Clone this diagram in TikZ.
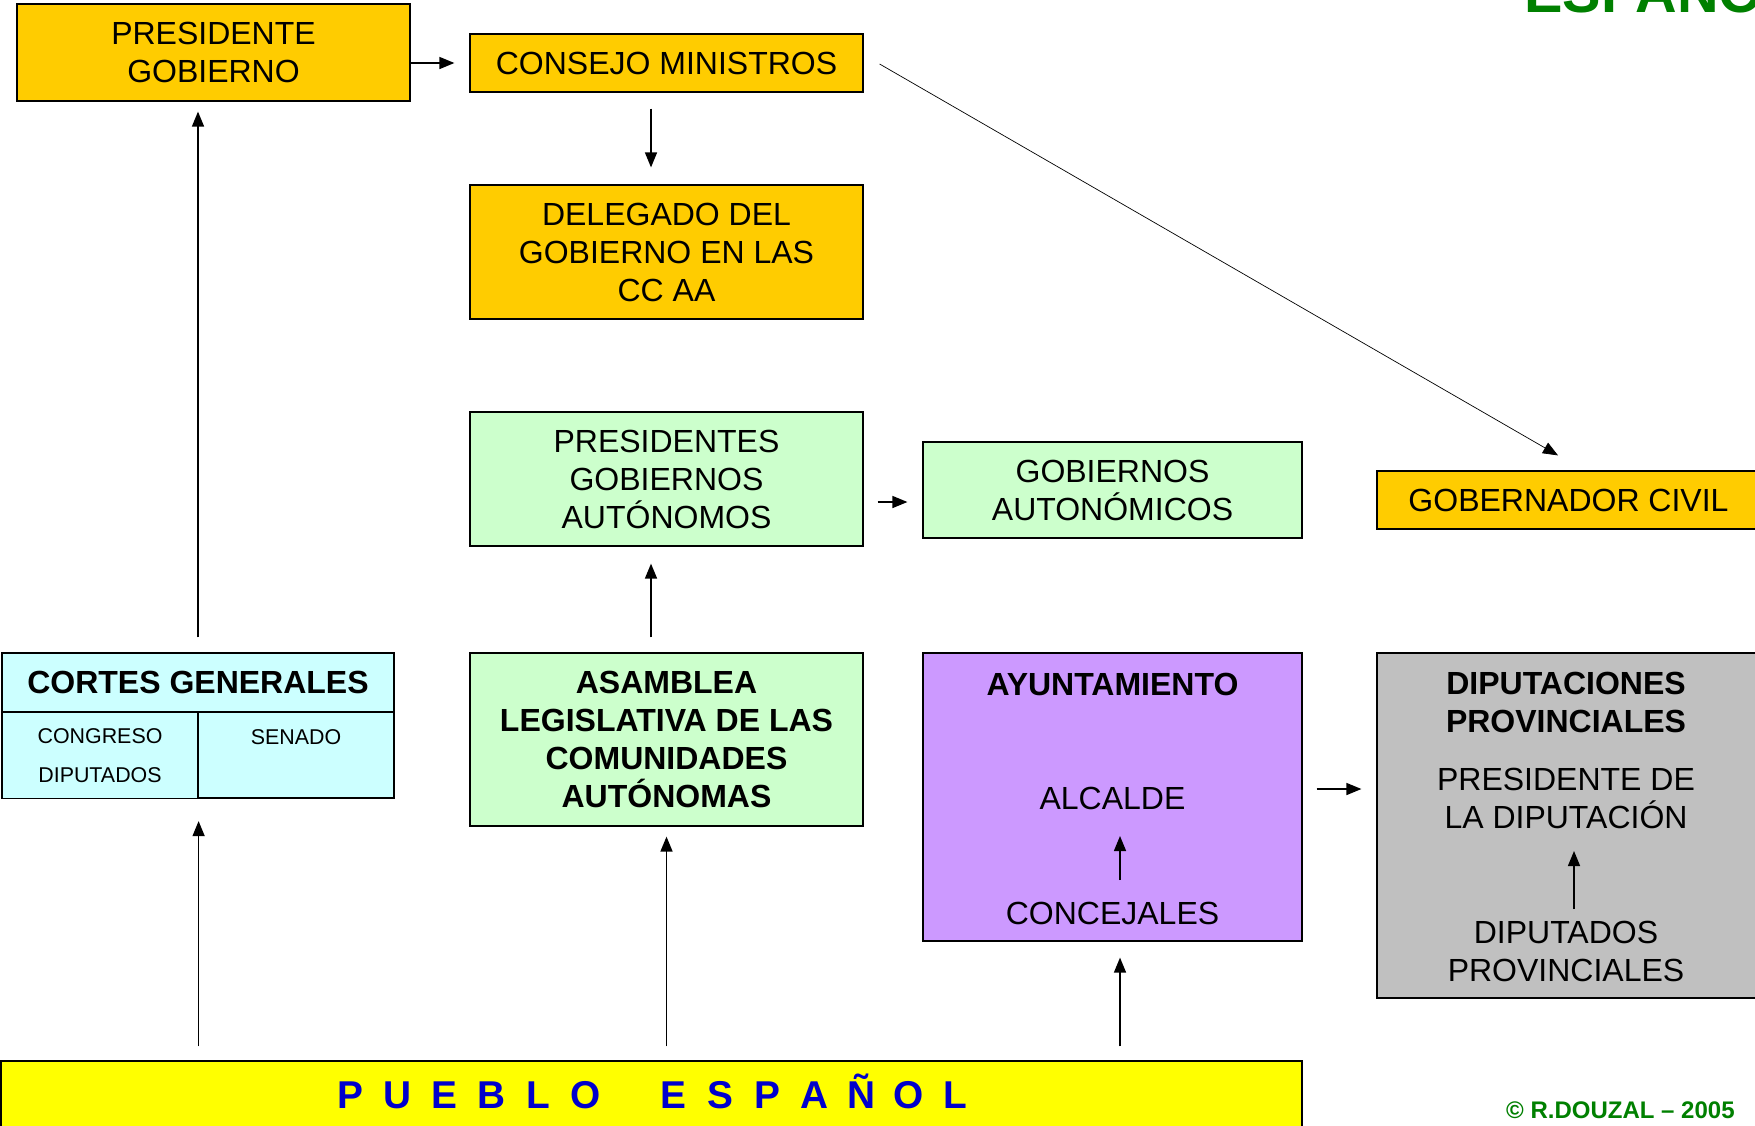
\documentclass[tikz,border=0pt]{standalone}
\usepackage{fontspec}
\setmainfont{Liberation Sans}
\usetikzlibrary{arrows.meta,calc}
\definecolor{gold}{HTML}{FFCC00}
\definecolor{mint}{HTML}{CCFFCC}
\definecolor{ice}{HTML}{CCFFFF}
\definecolor{lilac}{HTML}{CC99FF}
\definecolor{silver}{HTML}{C0C0C0}
\definecolor{lemon}{HTML}{FFFF00}
\definecolor{royal}{HTML}{0000CC}
\definecolor{forest}{HTML}{008000}
\newcommand\spl[1]{\makebox[23.5pt]{#1}}
\begin{document}
\begin{tikzpicture}[x=0.5pt,y=-0.5pt,
  box/.style={draw=black, line width=0.6pt, inner sep=0pt, align=center, font=\fontsize{16}{19}\selectfont},
  txt/.style={inner sep=0pt, align=center, font=\fontsize{16}{19}\selectfont},
  line1/.style={text height=11.5pt, text depth=0pt},
  arr/.style={line width=0.75pt, -{Triangle[length=7.5pt,width=6pt]}},
  thinarr/.style={line width=0.35pt, -{Triangle[length=7.5pt,width=6pt]}}]
\useasboundingbox (0,0) rectangle (1755,1125);
\clip (0,0) rectangle (1755,1125);
\fill[white] (0,0) rectangle (1755,1125);

% title fragment
\node[anchor=base west, inner sep=0pt, font=\fontsize{28.8}{30}\selectfont\bfseries, text=forest] (title) at (1524,12) {ESPAÑO};

% top row
\node[box, fill=gold, minimum width=196.5pt, minimum height=48.5pt] (pres) at (213.5,52.5) {PRESIDENTE\\GOBIERNO};
\node[box, fill=gold, minimum width=196.5pt, minimum height=29pt] (consejo) at (666.5,63) {CONSEJO MINISTROS};
\node[box, fill=gold, minimum width=196.5pt, minimum height=67pt] (delegado) at (666.5,252) {DELEGADO DEL\\GOBIERNO EN LAS\\CC AA};
\node[box, fill=mint, minimum width=196.5pt, minimum height=67pt] (presaut) at (666.5,479) {PRESIDENTES\\GOBIERNOS\\AUTÓNOMOS};
\node[box, fill=mint, minimum width=189.5pt, minimum height=48pt] (gobaut) at (1112.5,490) {GOBIERNOS\\AUTONÓMICOS};
\node[box, fill=gold, minimum width=191.5pt, minimum height=29pt] (gobernador) at (1568.5,500) {GOBERNADOR CIVIL};

% cortes generales
\node[box, fill=ice, minimum width=196pt, minimum height=29.5pt, font=\fontsize{16}{19}\selectfont\bfseries] (cortestop) at (198,682.5) {CORTES GENERALES};
\node[box, fill=ice, minimum width=98pt, minimum height=43pt, font=\fontsize{10.7}{19.5}\selectfont] (congreso) at (100,755.5) {CONGRESO\\DIPUTADOS};
\node[box, fill=ice, minimum width=98pt, minimum height=43pt] (senado) at (296,755) {};
\node[inner sep=0pt, font=\fontsize{10.7}{12}\selectfont, text height=7.7pt, text depth=0pt] (senadotxt) at (296,736.5) {SENADO};

% asamblea
\node[box, fill=mint, minimum width=196.5pt, minimum height=86.5pt, font=\fontsize{16}{19}\selectfont\bfseries] (asamblea) at (666.5,739.5) {ASAMBLEA\\LEGISLATIVA DE LAS\\COMUNIDADES\\AUTÓNOMAS};

% ayuntamiento
\node[box, fill=lilac, minimum width=189.5pt, minimum height=144pt] (ayto) at (1112.5,797) {};
\node[txt, line1, font=\fontsize{16}{19}\selectfont\bfseries] (aytotitle) at (1112.5,684) {AYUNTAMIENTO};
\node[txt, line1] (alcalde) at (1112.5,798) {ALCALDE};
\node[txt, line1] (concejales) at (1112.5,913) {CONCEJALES};

% diputaciones
\node[box, fill=silver, minimum width=191.5pt, minimum height=172.5pt] (diput) at (1568.5,825.5) {};
\node[txt, font=\fontsize{16}{19}\selectfont\bfseries] (diptitle) at (1566,702.5) {DIPUTACIONES\\PROVINCIALES};
\node[txt] (dippres) at (1566,798) {PRESIDENTE DE\\LA DIPUTACIÓN};
\node[txt] (dipdip) at (1566,951) {DIPUTADOS\\PROVINCIALES};

% pueblo
\node[draw=black, line width=0.6pt, fill=lemon, inner sep=0pt, minimum width=650.5pt, minimum height=37pt] (pueblo) at (651.5,1098) {};
\node[inner sep=0pt, font=\fontsize{19.4}{22}\selectfont\bfseries, text=royal, text height=13.9pt, text depth=0pt] (pueblotxt) at (653,1095)
  {\spl{P}\spl{U}\spl{E}\spl{B}\spl{L}\spl{O}\hspace{20.5pt}\spl{E}\spl{S}\spl{P}\spl{A}\spl{Ñ}\spl{O}\spl{L}};

% copyright
\node[anchor=east, inner sep=0pt, font=\fontsize{12}{14}\selectfont\bfseries, text=forest, text height=8.6pt, text depth=0pt] (copy) at (1735,1110) {© R.DOUZAL – 2005};

% connectors
\draw[arr] (pres.east |- consejo.west) -- ($(consejo.west)+(-15,0)$);
\draw[arr] ($(consejo.south)+(-15.5,16)$) -- ($(delegado.north)+(-15.5,-17)$);
\draw[thinarr] ($(consejo.east)+(16,1)$) -- ($(gobernador.north)+(-10.5,-15)$);
\draw[arr] ($(cortestop.north)+(0,-15)$) -- ($(cortestop.north |- pres.south)+(0,10)$);
\draw[arr] ($(asamblea.north)+(-15.5,-15)$) -- ($(presaut.south)+(-15.5,17)$);
\draw[arr] ($(presaut.east |- gobaut.west)+(14,12)$) -- ($(gobaut.west)+(-15,12)$);
\draw[arr] ($(pueblo.north -| congreso.south east)+(0,-14)$) -- ($(congreso.south east)+(0,22)$);
\draw[arr] ($(pueblo.north -| asamblea.south)+(0,-14)$) -- ($(asamblea.south)+(0,10)$);
\draw[arr] ($(pueblo.north -| ayto.south)+(7.5,-14)$) -- ($(ayto.south)+(7.5,16)$);
\draw[arr] ($(concejales.center)+(7.5,-33)$) -- ($(alcalde.center)+(7.5,38)$);
\draw[arr] ($(ayto.east)+(14,-8)$) -- ($(ayto.east -| diput.west)+(-15,-8)$);
\draw[arr] ($(dipdip.center)+(8,-42)$) -- ($(dippres.center)+(8,53)$);
\end{tikzpicture}
\end{document}
